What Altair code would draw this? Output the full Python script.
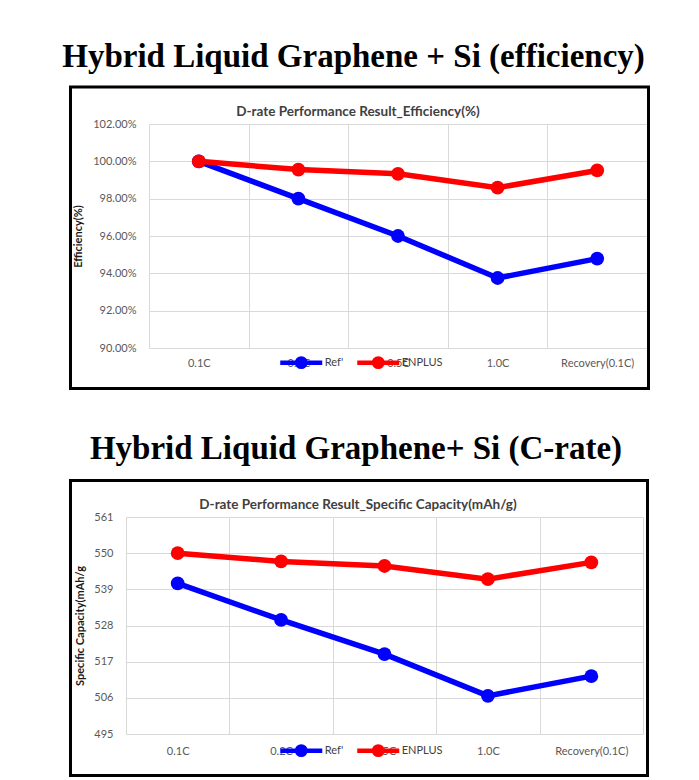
import altair as alt
import pandas as pd

categories = ["0.1C", "0.2C", "0.5C", "1.0C", "Recovery(0.1C)"]
series_names = ["Ref'", "ENPLUS"]
series_colors = ["#0000FF", "#FF0000"]

eff_ref = [100.0, 98.0, 96.0, 93.75, 94.79]
eff_enplus = [100.0, 99.56, 99.33, 98.59, 99.51]
eff_ticks = [90, 92, 94, 96, 98, 100, 102]

cap_ref = [540.8, 529.7, 519.3, 506.6, 512.6]
cap_enplus = [550.0, 547.5, 546.1, 542.1, 547.2]
cap_ticks = [495, 506, 517, 528, 539, 550, 561]

big_titles = ["Hybrid Liquid Graphene + Si (efficiency)", "Hybrid Liquid Graphene+ Si (C-rate)"]
inner_titles = ["D-rate Performance Result_Efficiency(%)",
                "D-rate Performance Result_Specific Capacity(mAh/g)"]
y_titles = ["Efficiency(%)", "Specific Capacity(mAh/g"]

FONT = "Lato"
GRID = "#d9d9d9"
SYMBOL = "M-1,0H1M0.2,0A0.2,0.2,0,1,1,-0.2,0A0.2,0.2,0,1,1,0.2,0"
ORIGIN_X = 126      # common page x of both panels' origin
FRAME_LEFT = 60     # page x of the invisible layout frame (same for both panels)
FRAME_RIGHT = 655


def panel(ref, enplus, ticks, label_expr, y_title, inner_title, big_title,
          W, H, x_range, border, inner_xy, legend_xy, x_label_pad, y_label_pad,
          y_title_pad, title_dx, title_offset):
    df = pd.DataFrame({
        "cat": categories * 2,
        "series": [series_names[0]] * len(categories) + [series_names[1]] * len(categories),
        "value": ref + enplus,
    })
    sc = dict(type="band", paddingInner=0, paddingOuter=0)
    if x_range is not None:
        sc["range"] = x_range
    x = alt.X("cat:N", sort=categories, bandPosition=0.5,
              scale=alt.Scale(**sc),
              axis=alt.Axis(title=None, tickBand="extent", grid=True, gridColor=GRID,
                            gridWidth=1, domain=False, ticks=False, labelAngle=0,
                            labelFont=FONT, labelFontSize=11, labelColor="#595959",
                            labelPadding=x_label_pad))
    y = alt.Y("value:Q",
              scale=alt.Scale(domain=[ticks[0], ticks[-1]], nice=False, zero=False),
              axis=alt.Axis(values=ticks, title=y_title, grid=True, gridColor=GRID,
                            domain=False, ticks=False, labelExpr=label_expr,
                            labelFont=FONT, labelFontSize=11, labelColor="#595959",
                            labelPadding=y_label_pad, titleFont=FONT, titleFontSize=11,
                            titleFontWeight="bold", titleColor="#1a1a1a",
                            titlePadding=y_title_pad))
    legend = alt.Legend(title=None, orient="none", legendX=legend_xy[0],
                        legendY=legend_xy[1], direction="horizontal",
                        symbolType=SYMBOL, symbolSize=1764,
                        symbolStrokeWidth=4.5, labelFont=FONT,
                        labelFontSize=11, labelColor="#404040",
                        labelOffset=0, columnPadding=4, padding=0)
    cscale = alt.Scale(domain=series_names, range=series_colors)
    stroke = alt.Stroke("series:N", scale=cscale, legend=legend)
    fill = alt.Fill("series:N", scale=cscale, legend=legend)

    base = alt.Chart(df).encode(x=x, y=y)
    layers = []
    for name in series_names:
        pred = alt.FieldEqualPredicate(field="series", equal=name)
        layers.append(base.transform_filter(pred).mark_line(strokeWidth=5.5).encode(stroke=stroke))
        layers.append(base.transform_filter(pred).mark_circle(size=190, opacity=1).encode(fill=fill))

    one = pd.DataFrame({"k": [0]})
    frame = alt.Chart(one).mark_rect(fill="white", fillOpacity=0, strokeOpacity=0).encode(
        x=alt.value(FRAME_LEFT - ORIGIN_X), x2=alt.value(FRAME_RIGHT - ORIGIN_X),
        y=alt.value(0), y2=alt.value(H))

    box = alt.Chart(one).mark_rect(
        filled=False, stroke="black", strokeWidth=3
    ).encode(x=alt.value(border[0]), x2=alt.value(border[1]),
             y=alt.value(border[2]), y2=alt.value(border[3]))

    inner = alt.Chart(pd.DataFrame({"t": [inner_title]})).mark_text(
        font=FONT, fontSize=13.5, fontWeight="bold", color="#404040"
    ).encode(x=alt.value(inner_xy[0]), y=alt.value(inner_xy[1]), text="t:N")

    return alt.layer(frame, box, inner, *layers).properties(
        width=W, height=H,
        title=alt.TitleParams(big_title, font="Liberation Serif", fontSize=33,
                              fontWeight="bold", color="black", anchor="middle",
                              frame="bounds", dx=title_dx, offset=title_offset),
    )


p1 = panel(eff_ref, eff_enplus, eff_ticks,
           "format(datum.value, '.2f') + '%'", y_titles[0], inner_titles[0], big_titles[0],
           W=521, H=224, x_range=[23, 521], border=[-55.5, 522.5, -37, 264.5],
           inner_xy=[232, -12], legend_xy=[151.75, 215], x_label_pad=9, y_label_pad=-10,
           y_title_pad=9, title_dx=-4, title_offset=12)

p2 = panel(cap_ref, cap_enplus, cap_ticks,
           "format(datum.value, 'd')", y_titles[1], inner_titles[1], big_titles[1],
           W=517, H=217, x_range=None, border=[-55.5, 521.5, -36.5, 258.5],
           inner_xy=[232, -12], legend_xy=[151.75, 210], x_label_pad=11, y_label_pad=13,
           y_title_pad=8, title_dx=-1.5, title_offset=13)

chart = alt.concat(p1, p2, columns=1, align="none", spacing=43).resolve_scale(
    x="independent", y="independent", fill="independent", stroke="independent"
).resolve_legend(fill="independent", stroke="independent").configure_view(stroke=None).properties(
    padding={"left": FRAME_LEFT - 8, "top": 32, "right": 5, "bottom": 5}
)

chart.save("out.html", embed_options={"renderer": "svg", "actions": False})
